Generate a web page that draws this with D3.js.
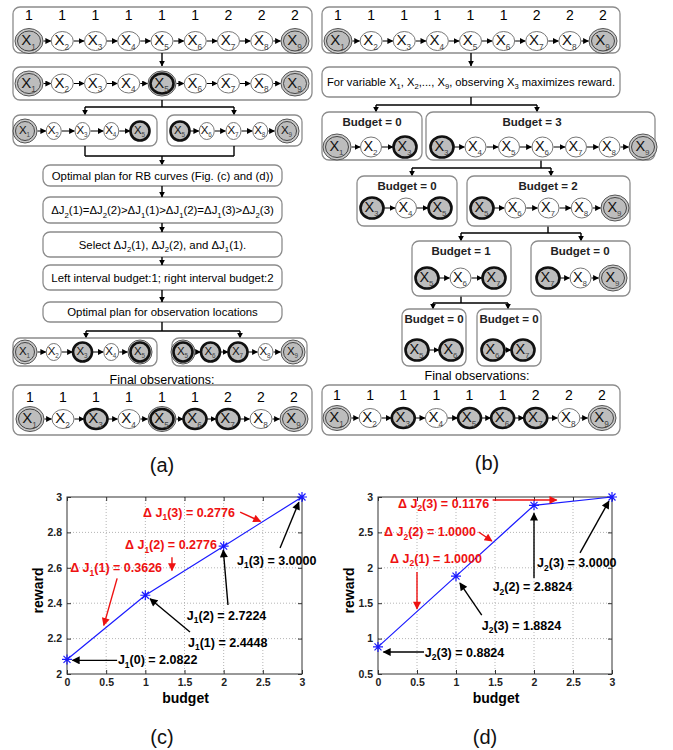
<!DOCTYPE html>
<html>
<head>
<meta charset="utf-8">
<script src="https://cdn.jsdelivr.net/npm/d3@7"></script>
<style>
  body { margin: 0; background: #fff; }
  text { font-family: "Liberation Sans", Arial, sans-serif; }
</style>
</head>
<body>
<div id="plotdiv"></div>
<script>
// ---------- chart values (c) and (d)
const budget = [0, 1, 2, 3];
const reward1 = [2.0822, 2.4448, 2.7224, 3.0000];
const reward2 = [0.8824, 1.8824, 2.8824, 3.0000];
const xTicks = [0, 0.5, 1, 1.5, 2, 2.5, 3];
const yTicks1 = [2, 2.2, 2.4, 2.6, 2.8, 3];
const yTicks2 = [0.5, 1, 1.5, 2, 2.5, 3];
// which notes are drawn: [kind, budget step, index printed in the label]
const notes1 = [["d", 3, 3], ["d", 2, 2], ["d", 1, 1], ["j", 3, 3], ["j", 2, 2], ["j", 1, 1], ["j", 0, 0]];
const notes2 = [["d", 3, 3], ["d", 2, 2], ["d", 1, 1], ["j", 3, 3], ["j", 2, 2], ["j", 1, 3], ["j", 0, 3]];
const panelNames = ["(a)", "(b)", "(c)", "(d)"];

// ---------- diagram content (a) and (b)
const obsBudget = [1, 1, 1, 1, 1, 1, 2, 2, 2];
const allVars = [1, 2, 3, 4, 5, 6, 7, 8, 9];
// node kinds: d = end point, t = observed, dt = both, w = not observed
const kindsStart = ["d", "w", "w", "w", "w", "w", "w", "w", "d"];
const kindsSplit = ["d", "w", "w", "w", "dt", "w", "w", "w", "d"];
const leftVars = [1, 2, 3, 4, 5];
const rightVars = [5, 6, 7, 8, 9];
const kindsLeftA = ["d", "w", "w", "w", "t"];
const kindsRightA = ["t", "w", "w", "w", "d"];
const kindsLeftB = ["d", "w", "t", "w", "dt"];
const kindsRightB = ["dt", "t", "t", "w", "d"];
const kindsFinalA = ["d", "w", "t", "w", "dt", "t", "t", "w", "d"];
const kindsFinalB = ["d", "w", "t", "w", "t", "t", "t", "w", "d"];
const stepsA = [
  ["Optimal plan for RB curves (Fig. (c) and (d))"],
  ["ΔJ", ["2"], "(1)=ΔJ", ["2"], "(2)>ΔJ", ["1"], "(1)>ΔJ", ["1"], "(2)=ΔJ", ["1"], "(3)>ΔJ", ["2"], "(3)"],
  ["Select ΔJ", ["2"], "(1), ΔJ", ["2"], "(2), and ΔJ", ["1"], "(1)."],
  ["Left interval budget:1; right interval budget:2"],
  ["Optimal plan for observation locations"]
];
const firstStepB = ["For variable X", ["1"], ", X", ["2"], ",..., X", ["9"], ", observing X", ["3"], " maximizes reward."];
const treeBudget = [0, 3, 0, 2, 1, 0, 0, 0];
const treeVars = [[1, 2, 3], [3, 4, 5, 6, 7, 8, 9], [3, 4, 5], [5, 6, 7, 8, 9], [5, 6, 7], [7, 8, 9], [5, 6], [6, 7]];
const treeKinds = [["d", "w", "t"], ["t", "w", "w", "w", "w", "w", "d"], ["t", "w", "t"], ["t", "w", "w", "w", "d"],
  ["t", "w", "t"], ["t", "w", "d"], ["t", "t"], ["t", "t"]];
const finalTitle = "Final observations:";

// ---------- page
const svg = d3.select("#plotdiv").append("svg").attr("width", 673).attr("height", 750);
const defs = svg.append("defs");
function marker(id, color, w, h) {
  defs.append("marker").attr("id", id).attr("viewBox", "0 0 10 10")
    .attr("refX", 9).attr("refY", 5).attr("markerUnits", "userSpaceOnUse")
    .attr("markerWidth", w).attr("markerHeight", h).attr("orient", "auto")
    .append("path").attr("d", "M0,0L10,5L0,10z").attr("fill", color);
}
marker("hK", "#000", 10, 8);
marker("hR", "#ee1111", 10, 8);
marker("hS", "#000", 6, 6);

// text with subscripts; plain strings and [sub] arrays
function rich(g, x, y, parts, o) {
  const t = g.append("text").attr("x", x).attr("y", y + o.fs * 0.36)
    .attr("text-anchor", o.anchor || "start").attr("font-size", o.fs)
    .attr("font-weight", o.bold ? "bold" : null).attr("fill", o.fill || "#000");
  let shift = 0;
  parts.forEach(p => {
    const sub = Array.isArray(p);
    const d = sub ? o.fs * (o.subDy || 0.3) : 0;
    t.append("tspan").attr("dy", d - shift).attr("font-size", sub ? o.fs * (o.subSize || 0.68) : null)
      .attr("fill", sub && o.subFill ? o.subFill : null).text(sub ? p[0] : p);
    shift = d;
  });
  return t;
}

// ---------- diagram helpers
function box(g, x0, y0, x1, y1) {
  g.append("rect").attr("x", x0).attr("y", y0).attr("width", x1 - x0).attr("height", y1 - y0)
    .attr("rx", 7).attr("fill", "#fff").attr("stroke", "#8c8c8c").attr("stroke-width", 1.3);
}
function seg(g, x0, y0, x1, y1, head) {
  g.append("line").attr("x1", x0).attr("y1", y0).attr("x2", x1).attr("y2", y1)
    .attr("stroke", "#000").attr("stroke-width", 1.4)
    .attr("marker-end", head ? "url(#hS)" : null);
}
function fork(g, xs, y0, ym, xl, xr, y1) {
  seg(g, xs, y0, xs, ym);
  seg(g, xl, ym, xr, ym);
  seg(g, xl, ym, xl, y1, true);
  seg(g, xr, ym, xr, y1, true);
}
function chain(g, vars, kinds, x0, x1, cy, big, small, fs) {
  const x = d3.scalePoint().domain(vars).range([x0, x1]);
  const size = k => k === "w" ? small : big;
  const ring = k => k[0] === "d" ? 2.5 : 0;
  for (let i = 0; i < vars.length - 1; i++) {
    const a = x(vars[i]) + size(kinds[i])[0] + ring(kinds[i]) + 0.5;
    const b = x(vars[i + 1]) - size(kinds[i + 1])[0] - ring(kinds[i + 1]) - 0.5;
    g.append("line").attr("x1", a).attr("y1", cy).attr("x2", b).attr("y2", cy)
      .attr("stroke", "#000").attr("stroke-width", 1).attr("marker-end", "url(#hS)");
  }
  vars.forEach((v, i) => {
    const k = kinds[i], s = size(k), cx = x(v);
    if (k[0] === "d") {
      g.append("ellipse").attr("cx", cx).attr("cy", cy).attr("rx", s[0] + 2.5).attr("ry", s[1] + 2.5)
        .attr("fill", "#c9c9c9").attr("stroke", "#555").attr("stroke-width", 1);
    }
    g.append("ellipse").attr("cx", cx).attr("cy", cy).attr("rx", s[0]).attr("ry", s[1])
      .attr("fill", k === "w" ? "#fff" : "#bdbdbd")
      .attr("stroke", k.includes("t") ? "#111" : (k === "d" ? "#444" : "#777"))
      .attr("stroke-width", k.includes("t") ? 2.6 : 1);
    rich(g, cx - 0.5, cy - 1, ["X", [String(v)]],
      { fs: fs, anchor: "middle", fill: "#111", subFill: "#444", subSize: 0.55, subDy: 0.28 });
  });
  return x;
}
function budgets(g, x, vars, y) {
  vars.forEach((v, i) => {
    g.append("text").attr("x", x(v)).attr("y", y + 5).attr("text-anchor", "middle")
      .attr("font-size", 14).text(obsBudget[i]);
  });
}

// ---------- diagram (a)
const ga = svg.append("g");
box(ga, 13, 7, 312, 53);
budgets(ga, chain(ga, allVars, kindsStart, 29, 295, 41, [11.5, 10], [11, 9.5], 15), allVars, 15);
seg(ga, 162, 53, 162, 66, true);
box(ga, 13, 67, 312, 100);
chain(ga, allVars, kindsSplit, 29, 295, 83.5, [11.5, 10], [11, 9.5], 15);
fork(ga, 162, 100, 107, 85, 234, 115);
box(ga, 13, 115, 157, 146);
box(ga, 167, 115, 302, 146);
chain(ga, leftVars, kindsLeftA, 25, 140, 131, [9.5, 9.5], [7.5, 8.5], 11.5);
chain(ga, rightVars, kindsRightA, 180, 287, 131, [9.5, 9.5], [7.5, 8.5], 11.5);
seg(ga, 85, 146, 85, 156);
seg(ga, 234, 146, 234, 156);
seg(ga, 85, 156, 234, 156);
seg(ga, 162, 156, 162, 165, true);
const stepBoxes = [[165, 186], [197, 223], [232, 257], [265, 290], [302, 322]];
stepsA.forEach((p, i) => {
  const b = stepBoxes[i];
  box(ga, 43, b[0], 282, b[1]);
  rich(ga, 162.5, (b[0] + b[1]) / 2, p, { fs: 11.4, anchor: "middle" });
  if (i > 0) seg(ga, 162, stepBoxes[i - 1][1], 162, b[0], true);
});
fork(ga, 162, 322, 331, 86, 240, 338);
box(ga, 13, 338, 157, 366);
box(ga, 172, 338, 307, 366);
chain(ga, leftVars, kindsLeftB, 25, 140, 352, [9.5, 9.5], [7.5, 8.5], 11.5);
chain(ga, rightVars, kindsRightB, 183, 293, 352, [9.5, 9.5], [7.5, 8.5], 11.5);
rich(ga, 162, 379, [finalTitle], { fs: 12.5, anchor: "middle" });
box(ga, 13, 385, 312, 435);
budgets(ga, chain(ga, allVars, kindsFinalA, 30, 294, 419, [11.5, 10], [11, 9.5], 15), allVars, 397);

// ---------- diagram (b)
const gb = svg.append("g");
box(gb, 322, 7, 620, 53);
budgets(gb, chain(gb, allVars, kindsStart, 338, 603, 41, [11.5, 10], [11, 9.5], 15), allVars, 15);
seg(gb, 471, 53, 471, 66, true);
box(gb, 322, 67, 620, 97);
rich(gb, 471, 82, firstStepB, { fs: 11.2, anchor: "middle" });
// tree boxes: x0, y0, x1, y1, label x, node x range, node y
const treeBoxes = [
  [322, 112, 422, 160, 372, 337, 405, 147],
  [426, 112, 655, 160, 532, 442, 643, 147],
  [357, 176, 457, 226, 407, 372, 440, 208],
  [467, 176, 630, 226, 548, 482, 615, 208],
  [412, 241, 511, 296, 461, 427, 494, 278],
  [531, 241, 630, 296, 580, 548, 613, 278],
  [402, 309, 466, 366, 434, 417, 451, 350],
  [477, 309, 541, 366, 509, 493, 523, 350]
];
fork(gb, 471, 97, 105, 376, 537, 112);
fork(gb, 541, 160, 168, 412, 551, 176);
fork(gb, 548, 226, 233, 461, 581, 241);
fork(gb, 461, 296, 303, 433, 508, 309);
treeBoxes.forEach((b, i) => {
  box(gb, b[0], b[1], b[2], b[3]);
  rich(gb, b[4], b[1] + 10, ["Budget = " + treeBudget[i]], { fs: 11.5, anchor: "middle", bold: true, fill: "#222" });
  chain(gb, treeVars[i], treeKinds[i], b[5], b[6], b[7], [11.5, 10.5], [10.5, 10], 14.5);
});
rich(gb, 477, 375, [finalTitle], { fs: 12.5, anchor: "middle" });
box(gb, 322, 385, 620, 435);
budgets(gb, chain(gb, allVars, kindsFinalB, 337, 602, 418, [11.5, 10], [11, 9.5], 15), allVars, 395);

// ---------- reward-budget plots
function noteParts(n, rw, sub) {
  const v = n[0] === "d" ? rw[n[1]] - rw[n[1] - 1] : rw[n[1]];
  return [n[0] === "d" ? "Δ J" : "J", [sub], "(" + n[2] + ") = " + v.toFixed(4)];
}
function plot(x0, x1, yT, yB, ydom, yTicks, rw, notes, spots, sub) {
  const g = svg.append("g");
  const x = d3.scaleLinear().domain([0, 3]).range([x0, x1]);
  const y = d3.scaleLinear().domain(ydom).range([yB, yT]);
  g.selectAll(null).data(xTicks.slice(1, -1)).enter().append("line")
    .attr("x1", d => x(d)).attr("x2", d => x(d)).attr("y1", yT).attr("y2", yB)
    .attr("stroke", "#b5b5b5").attr("stroke-dasharray", "1,2");
  g.selectAll(null).data(yTicks.slice(1, -1)).enter().append("line")
    .attr("y1", d => y(d)).attr("y2", d => y(d)).attr("x1", x0).attr("x2", x1)
    .attr("stroke", "#b5b5b5").attr("stroke-dasharray", "1,2");
  g.append("rect").attr("x", x0).attr("y", yT).attr("width", x1 - x0).attr("height", yB - yT)
    .attr("fill", "none").attr("stroke", "#333").attr("stroke-width", 1);
  const fmt = d => String(d);
  const axes = [
    [d3.axisBottom(x).tickValues(xTicks).tickFormat(fmt), `translate(0,${yB})`],
    [d3.axisTop(x).tickValues(xTicks).tickFormat(""), `translate(0,${yT})`],
    [d3.axisLeft(y).tickValues(yTicks).tickFormat(fmt), `translate(${x0},0)`],
    [d3.axisRight(y).tickValues(yTicks).tickFormat(""), `translate(${x1},0)`]
  ];
  axes.forEach(a => {
    const ag = g.append("g").attr("transform", a[1])
      .call(a[0].tickSizeInner(-4).tickSizeOuter(0).tickPadding(5));
    ag.select(".domain").remove();
    ag.selectAll("line").attr("stroke", "#333");
    ag.selectAll("text").attr("font-family", "'DejaVu Sans Condensed', 'Liberation Sans Narrow', sans-serif")
      .attr("font-size", 10.5).attr("font-weight", "bold").attr("fill", "#222");
  });
  g.append("path").datum(budget.map((b, i) => [b, rw[i]]))
    .attr("d", d3.line().x(d => x(d[0])).y(d => y(d[1])))
    .attr("fill", "none").attr("stroke", "#1a1aff").attr("stroke-width", 1.2);
  g.selectAll(null).data(budget).enter().append("path")
    .attr("transform", (b, i) => `translate(${x(b)},${y(rw[i])})`)
    .attr("d", "M-5,0H5M0,-5V5M-3.5,-3.5L3.5,3.5M-3.5,3.5L3.5,-3.5")
    .attr("stroke", "#1a1aff").attr("stroke-width", 1.2);
  notes.forEach((n, i) => {
    const s = spots[i], red = n[0] === "d";
    rich(g, x(s[0]), y(s[1]), noteParts(n, rw, sub), { fs: 12.5, bold: true, fill: red ? "#ee1111" : "#000" });
    g.append("line").attr("x1", x(s[2])).attr("y1", y(s[3])).attr("x2", x(s[4])).attr("y2", y(s[5]))
      .attr("stroke", red ? "#ee1111" : "#000").attr("stroke-width", 1.4)
      .attr("marker-end", red ? "url(#hR)" : "url(#hK)");
  });
  g.append("text").attr("transform", `translate(${x0 - 24},${(yT + yB) / 2 + 5}) rotate(-90)`)
    .attr("text-anchor", "middle").attr("font-size", 14).attr("font-weight", "bold").text("reward");
  g.append("text").attr("x", (x0 + x1) / 2 + 1).attr("y", yB + 29)
    .attr("text-anchor", "middle").attr("font-size", 14).attr("font-weight", "bold").text("budget");
}
// note placement: text x, y, arrow from x, y, arrow to x, y (data units)
const spots1 = [
  [0.97, 2.915, 2.21, 2.915, 2.47, 2.862],
  [0.74, 2.729, 1.34, 2.66, 1.34, 2.585],
  [0.04, 2.599, 0.64, 2.54, 0.47, 2.275],
  [2.17, 2.644, 2.72, 2.712, 2.96, 2.97],
  [1.53, 2.333, 2.055, 2.39, 1.995, 2.70],
  [1.545, 2.18, 1.57, 2.237, 1.06, 2.425],
  [0.65, 2.08, 0.64, 2.077, 0.07, 2.077]
];
const spots2 = [
  [0.256, 2.915, 1.47, 2.958, 2.29, 2.958],
  [0.077, 2.506, 1.29, 2.506, 1.46, 2.378],
  [0.154, 2.138, 0.5, 1.94, 0.5, 1.42],
  [2.04, 2.068, 2.59, 2.21, 2.96, 2.94],
  [1.47, 1.729, 2.0, 1.856, 2.0, 2.77],
  [1.33, 1.192, 1.33, 1.333, 1.05, 1.785],
  [0.6, 0.81, 0.59, 0.81, 0.07, 0.81]
];
plot(67, 302, 497, 674, [2, 3], yTicks1, reward1, notes1, spots1, "1");
plot(378, 612, 497, 674, [0.5, 3], yTicks2, reward2, notes2, spots2, "2");

// panel names
[[162, 465], [487, 463], [162, 737], [485, 737]].forEach((p, i) => {
  svg.append("text").attr("x", p[0]).attr("y", p[1] + 7).attr("text-anchor", "middle")
    .attr("font-size", 20).attr("fill", "#111").text(panelNames[i]);
});
</script>
</body>
</html>
